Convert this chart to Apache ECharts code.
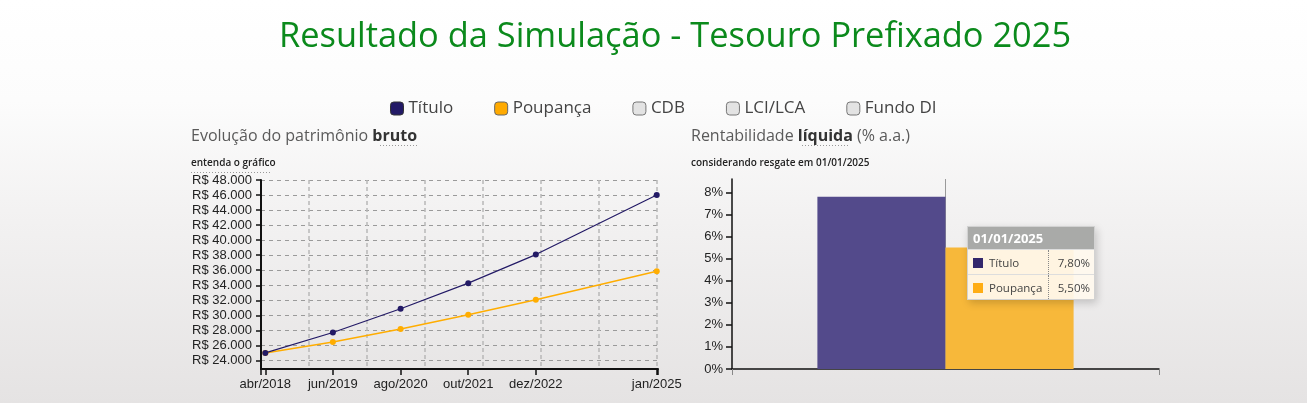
<!DOCTYPE html>
<html>
<head>
<meta charset="utf-8">
<script src="https://cdn.jsdelivr.net/npm/echarts@6/dist/echarts.min.js"></script>
<style>
html,body{margin:0;padding:0;width:1307px;height:403px;overflow:hidden;}
body{background:linear-gradient(to bottom,#ffffff 0%,#fcfcfc 25%,#f2f1f1 55%,#e5e3e3 100%);}
#chart{width:1307px;height:403px;}
</style>
</head>
<body>
<div id="chart"></div>
<script>
// ---- data ----
const titleText = 'Resultado da Simulação - Tesouro Prefixado 2025';
const legendNames = ['Título', 'Poupança', 'CDB', 'LCI/LCA', 'Fundo DI'];
const lineDates = ['2018-04-01', '2019-06-01', '2020-08-01', '2021-10-01', '2022-12-01', '2025-01-01'];
const lineLabels = ['abr/2018', 'jun/2019', 'ago/2020', 'out/2021', 'dez/2022', 'jan/2025'];
const tituloValues = [25000, 27720, 30870, 34280, 38080, 46010];
const poupancaValues = [25000, 26440, 28170, 30070, 32060, 35870];
const yTickValues = [24000, 26000, 28000, 30000, 32000, 34000, 36000, 38000, 40000, 42000, 44000, 46000, 48000];
const yearGridDates = ['2019-01-01', '2020-01-01', '2021-01-01', '2022-01-01', '2023-01-01', '2024-01-01', '2025-01-01'];
const xRangeDates = ['2018-03-05', '2025-01-09'];
const yRange = [22860, 48000];
const rateCategories = ['01/01/2025'];
const tituloRate = [7.80];
const poupancaRate = [5.50];
const rateTicks = [0, 1, 2, 3, 4, 5, 6, 7, 8];
const rateMax = 8.6;

// ---- helpers ----
const ts = d => Date.parse(d + 'T00:00:00Z');
const lineTs = lineDates.map(ts);
const labelByTs = {};
lineTs.forEach((t, i) => { labelByTs[t] = lineLabels[i]; });
const fmtBRL = v => 'R$ ' + String(v).replace(/\B(?=(\d{3})+(?!\d))/g, '.');
const fmtPct = v => v.toFixed(2).replace('.', ',') + '%';

const colors = {
  tituloLine: '#231a66', poupLine: '#ffad00',
  tituloBar: '#534a8b', poupBar: '#f7b83a',
  tituloLegend: '#231a66', poupLegend: '#ffaa00', off: '#e3e3e3'
};

const chart = echarts.init(document.getElementById('chart'), null, {renderer: 'canvas'});

const axisFont = {fontFamily: '"Liberation Sans", Arial, sans-serif', fontSize: 13, color: '#222'};

const option = {
  animation: false,
  title: {
    text: titleText, left: 274, top: 15,
    textStyle: {fontFamily: '"Open Sans", sans-serif', fontSize: 34.4, fontWeight: 'normal', color: '#0b8a1c'}
  },
  legend: {
    left: 385, top: 95, itemWidth: 13, itemHeight: 13, itemGap: 41, icon: 'roundRect',
    textStyle: {fontFamily: '"Open Sans", sans-serif', fontSize: 17, color: '#444', padding: [0, 0, 0, 0]},
    selectedMode: false,
    data: [
      {name: legendNames[0], itemStyle: {color: colors.tituloLegend, borderColor: '#333', borderWidth: 1}},
      {name: legendNames[1], itemStyle: {color: colors.poupLegend, borderColor: '#666', borderWidth: 1}},
      {name: legendNames[2], itemStyle: {color: colors.off, borderColor: '#777', borderWidth: 1}},
      {name: legendNames[3], itemStyle: {color: colors.off, borderColor: '#777', borderWidth: 1}},
      {name: legendNames[4], itemStyle: {color: colors.off, borderColor: '#777', borderWidth: 1}}
    ]
  },
  graphic: [
    {type: 'text', x: 191, y: 136, style: {
      text: '{a|Evolução do patrimônio }{b|bruto}', verticalAlign: 'middle',
      rich: {a: {fontFamily: '"Open Sans", sans-serif', fontSize: 16, fill: '#5a5a5a'},
             b: {fontFamily: '"Open Sans", sans-serif', fontSize: 16, fontWeight: 'bold', fill: '#333'}}}},
    {type: 'line', shape: {x1: 380, y1: 145.5, x2: 419, y2: 145.5}, style: {stroke: '#999', lineWidth: 1, lineDash: [1, 2]}},
    {type: 'text', x: 191, y: 163, style: {
      text: 'entenda o gráfico', verticalAlign: 'middle',
      fontFamily: '"Open Sans", sans-serif', fontSize: 10, fontWeight: 600, fill: '#222'}},
    {type: 'line', shape: {x1: 191, y1: 172.5, x2: 272, y2: 172.5}, style: {stroke: '#999', lineWidth: 1, lineDash: [1, 2]}},
    {type: 'text', x: 691, y: 136, style: {
      text: '{a|Rentabilidade }{b|líquida}{a| (% a.a.)}', verticalAlign: 'middle',
      rich: {a: {fontFamily: '"Open Sans", sans-serif', fontSize: 16, fill: '#5a5a5a'},
             b: {fontFamily: '"Open Sans", sans-serif', fontSize: 16, fontWeight: 'bold', fill: '#333'}}}},
    {type: 'line', shape: {x1: 802, y1: 145.5, x2: 849, y2: 145.5}, style: {stroke: '#999', lineWidth: 1, lineDash: [1, 2]}},
    {type: 'text', x: 691, y: 163, style: {
      text: 'considerando resgate em 01/01/2025', verticalAlign: 'middle',
      fontFamily: '"Open Sans", sans-serif', fontSize: 10, fontWeight: 600, fill: '#222'}}
  ],
  tooltip: {
    trigger: 'axis', alwaysShowContent: true, position: [967, 226],
    padding: 0, borderWidth: 0, backgroundColor: 'transparent',
    extraCssText: 'box-shadow:2px 3px 8px rgba(0,0,0,0.18);border-radius:0;',
    axisPointer: {type: 'line', z: 1, lineStyle: {color: '#9a9a9a', width: 1, type: 'solid'}},
    formatter: params => {
      let rows = '';
      params.forEach((p, i) => {
        rows += '<tr style="background:rgba(255,249,238,0.93)">' +
          '<td style="padding:0 0 0 5px;height:24px;border-top:1px solid #ddd;white-space:nowrap;">' +
          '<span style="display:inline-block;width:10px;height:10px;background:' + (i === 0 ? '#33276b' : '#ffad14') + ';margin-right:6px;vertical-align:-1px"></span>' + p.seriesName + '</td>' +
          '<td style="padding:0 4px 0 5px;text-align:right;border-top:1px solid #ddd;border-left:1px dotted #888;">' + fmtPct(p.value) + '</td></tr>';
      });
      return '<div style="width:126px;font-family:\'Open Sans\',sans-serif;border:1px solid #d2d2d2;">' +
        '<div style="background:#a9aaa8;color:#fff;font-weight:bold;font-size:13px;height:22px;line-height:22px;padding-left:5px;">' + params[0].name + '</div>' +
        '<table style="border-collapse:collapse;width:100%;font-size:11.5px;color:#444;">' + rows + '</table></div>';
    }
  },
  grid: [
    {left: 261, right: 1307 - 658, top: 180, bottom: 403 - 369, containLabel: false},
    {left: 732, right: 1307 - 1159, top: 179, bottom: 403 - 369, containLabel: false}
  ],
  xAxis: [
    {
      type: 'value', gridIndex: 0, min: ts(xRangeDates[0]), max: ts(xRangeDates[1]),
      axisLine: {show: true, lineStyle: {color: '#111', width: 2}},
      axisTick: {show: true, length: 6, lineStyle: {color: '#111', width: 1.5},
        customValues: [ts(xRangeDates[0])].concat(lineTs, [ts(xRangeDates[1])])},
      axisLabel: Object.assign({margin: 9, customValues: lineTs, formatter: v => labelByTs[v] || ''}, axisFont),
      splitLine: {show: false},
      axisPointer: {show: false}
    },
    {
      type: 'value', gridIndex: 0, min: ts(xRangeDates[0]), max: ts(xRangeDates[1]),
      axisLine: {show: false}, axisLabel: {show: false},
      axisTick: {show: false, customValues: yearGridDates.map(ts)},
      splitLine: {show: true, lineStyle: {color: '#b8b8b8', width: 1.5, type: [4, 3]}},
      axisPointer: {show: false}
    },
    {
      type: 'category', gridIndex: 1, data: rateCategories,
      axisLine: {show: true, lineStyle: {color: '#111', width: 1.5}},
      axisTick: {show: true, length: 6, lineStyle: {color: '#888'}},
      axisLabel: {show: false},
      splitLine: {show: false}
    }
  ],
  yAxis: [
    {
      type: 'value', gridIndex: 0, min: yRange[0], max: yRange[1],
      axisLine: {show: true, lineStyle: {color: '#111', width: 2}},
      axisTick: {show: true, length: 5, lineStyle: {color: '#111', width: 1.5}, customValues: yTickValues},
      axisLabel: Object.assign({margin: 9, customValues: yTickValues, formatter: fmtBRL}, axisFont),
      splitLine: {show: true, lineStyle: {color: '#9a9a9a', width: 1, type: [4, 4]}}
    },
    {
      type: 'value', gridIndex: 1, min: 0, max: rateMax,
      axisLine: {show: true, lineStyle: {color: '#111', width: 1.5}},
      axisTick: {show: true, length: 6, lineStyle: {color: '#111', width: 1.5}, customValues: rateTicks},
      axisLabel: Object.assign({margin: 9, customValues: rateTicks, formatter: v => v + '%'}, axisFont),
      splitLine: {show: false}
    }
  ],
  series: [
    {
      name: legendNames[0], type: 'line', xAxisIndex: 0, yAxisIndex: 0,
      data: lineTs.map((t, i) => [t, tituloValues[i]]),
      color: colors.tituloLine, symbol: 'circle', symbolSize: 6, showSymbol: true,
      lineStyle: {width: 1.2, color: colors.tituloLine}, itemStyle: {color: colors.tituloLine}, z: 4,
      emphasis: {disabled: true}, tooltip: {show: false}
    },
    {
      name: legendNames[1], type: 'line', xAxisIndex: 0, yAxisIndex: 0,
      data: lineTs.map((t, i) => [t, poupancaValues[i]]),
      color: colors.poupLine, symbol: 'circle', symbolSize: 6, showSymbol: true,
      lineStyle: {width: 1.5, color: colors.poupLine}, itemStyle: {color: colors.poupLine}, z: 3,
      emphasis: {disabled: true}, tooltip: {show: false}
    },
    {
      name: legendNames[0], type: 'bar', xAxisIndex: 2, yAxisIndex: 1,
      data: tituloRate, barGap: '0%', barCategoryGap: '40%',
      itemStyle: {color: colors.tituloBar}, z: 2, emphasis: {disabled: true}
    },
    {
      name: legendNames[1], type: 'bar', xAxisIndex: 2, yAxisIndex: 1,
      data: poupancaRate, barGap: '0%', barCategoryGap: '40%',
      itemStyle: {color: colors.poupBar}, z: 2, emphasis: {disabled: true}
    },
    {name: legendNames[2], type: 'line', xAxisIndex: 0, yAxisIndex: 0, data: [], color: colors.off},
    {name: legendNames[3], type: 'line', xAxisIndex: 0, yAxisIndex: 0, data: [], color: colors.off},
    {name: legendNames[4], type: 'line', xAxisIndex: 0, yAxisIndex: 0, data: [], color: colors.off}
  ]
};

chart.setOption(option);
chart.dispatchAction({type: 'showTip', seriesIndex: 2, dataIndex: 0});
</script>
</body>
</html>
